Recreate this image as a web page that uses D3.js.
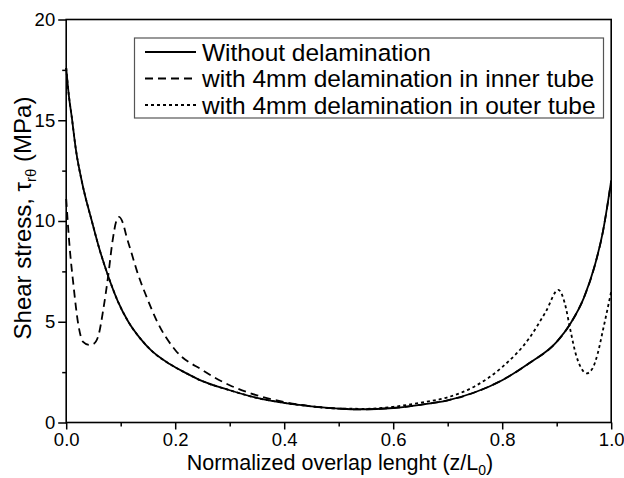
<!DOCTYPE html>
<html>
<head>
<meta charset="utf-8">
<script src="https://cdn.jsdelivr.net/npm/d3@7"></script>
<style>
  body { margin: 0; background: #fff; }
  text { font-family: "Liberation Sans", Arial, sans-serif; fill: #000; }
</style>
</head>
<body>
<svg id="chart" width="624" height="478"></svg>
<script>
// values (z/L0 -> shear stress, MPa)
var xSolid = [0, 0.005, 0.01, 0.018, 0.03, 0.047, 0.06, 0.077, 0.095, 0.114, 0.135, 0.155, 0.19, 0.22, 0.25, 0.3, 0.35, 0.4, 0.45, 0.5, 0.535, 0.57, 0.6, 0.65, 0.7, 0.75, 0.8, 0.85, 0.9, 0.925, 0.95, 0.97, 0.985, 1.0]
var ySolid = [17.6, 16.2, 15.2, 13.5, 11.8, 10.0, 8.7, 7.27, 6.0, 5.0, 4.2, 3.6, 2.9, 2.45, 2.05, 1.6, 1.22, 0.97, 0.8, 0.69, 0.65, 0.67, 0.72, 0.88, 1.1, 1.5, 2.1, 2.95, 4.0, 4.9, 6.2, 7.8, 9.5, 12.0]

var xInner = [0, 0.006, 0.013, 0.022, 0.031, 0.042, 0.05, 0.059, 0.068, 0.077, 0.085, 0.092, 0.097, 0.104, 0.111, 0.12, 0.13, 0.148, 0.167, 0.2, 0.25, 0.3, 0.35, 0.4, 0.45, 0.5, 0.535, 0.57, 0.6, 0.65, 0.7, 0.75, 0.8, 0.85, 0.9, 0.925, 0.95, 0.97, 0.985, 1.0]
var yInner = [11.1, 8.8, 6.9, 4.9, 4.0, 3.85, 3.9, 4.3, 5.6, 7.27, 9.0, 10.0, 10.2, 9.9, 9.2, 8.4, 7.5, 6.2, 5.0, 3.6, 2.6, 1.85, 1.35, 1.02, 0.8, 0.69, 0.65, 0.67, 0.72, 0.88, 1.1, 1.5, 2.1, 2.95, 4.0, 4.9, 6.2, 7.8, 9.5, 12.0]

var xOuter = [0, 0.005, 0.01, 0.018, 0.03, 0.047, 0.06, 0.077, 0.095, 0.114, 0.135, 0.155, 0.19, 0.22, 0.25, 0.3, 0.35, 0.4, 0.45, 0.5, 0.55, 0.6, 0.65, 0.7, 0.75, 0.8, 0.85, 0.88, 0.903, 0.915, 0.925, 0.935, 0.945, 0.955, 0.965, 0.975, 0.985, 0.993, 1.0]
var yOuter = [17.6, 16.2, 15.2, 13.5, 11.8, 10.0, 8.7, 7.27, 6.0, 5.0, 4.2, 3.6, 2.9, 2.45, 2.05, 1.6, 1.22, 0.97, 0.8, 0.69, 0.68, 0.78, 0.98, 1.25, 1.8, 2.75, 4.2, 5.5, 6.58, 5.9, 4.6, 3.4, 2.7, 2.44, 2.65, 3.4, 4.6, 5.6, 6.5]

var seriesNames = ["Without delamination", "with 4mm delamination in inner tube", "with 4mm delamination in outer tube"]
var xTicks = [0, 0.2, 0.4, 0.6, 0.8, 1.0]
var xMinor = [0.1, 0.3, 0.5, 0.7, 0.9]
var yTicks = [0, 5, 10, 15, 20]
var yMinor = [2.5, 7.5, 12.5, 17.5]

// plot box (px) -- 'top' is taken by window.top, so other names here
var pL = 66.2, pR = 611.2, pT = 19.5, pB = 422.5
var svg = d3.select('#chart')
var x = d3.scaleLinear().domain([0, 1]).range([pL, pR])
var y = d3.scaleLinear().domain([0, 20]).range([pB, pT])

var series = [
  {name: seriesNames[0], xs: xSolid, ys: ySolid, dash: null},
  {name: seriesNames[1], xs: xInner, ys: yInner, dash: '8,5'},
  {name: seriesNames[2], xs: xOuter, ys: yOuter, dash: '3,3'}
]

var line = d3.line().x(d => x(d[0])).y(d => y(d[1])).curve(d3.curveMonotoneX)

svg.selectAll('path.curve').data(series).enter().append('path')
  .attr('class', 'curve')
  .attr('d', s => line(d3.zip(s.xs, s.ys)))
  .attr('fill', 'none').attr('stroke', '#000').attr('stroke-width', 1.8)
  .attr('stroke-dasharray', s => s.dash)

// frame
svg.append('rect').attr('x', pL).attr('y', pT)
  .attr('width', pR - pL).attr('height', pB - pT)
  .attr('fill', 'none').attr('stroke', '#000').attr('stroke-width', 1.6)

// axes
svg.append('g').attr('transform', 'translate(0,' + pB + ')')
  .call(d3.axisBottom(x).tickValues(xTicks).tickFormat(d3.format('.1f')).tickSize(7).tickPadding(3))
svg.append('g').attr('transform', 'translate(0,' + pB + ')')
  .call(d3.axisBottom(x).tickValues(xMinor).tickFormat('').tickSize(4))
svg.append('g').attr('transform', 'translate(' + pL + ',0)')
  .call(d3.axisLeft(y).tickValues(yTicks).tickFormat(d3.format('d')).tickSize(8).tickPadding(3))
svg.append('g').attr('transform', 'translate(' + pL + ',0)')
  .call(d3.axisLeft(y).tickValues(yMinor).tickFormat('').tickSize(4))

svg.selectAll('.domain').remove()
svg.selectAll('.tick line').attr('stroke', '#000').attr('stroke-width', 1.5)
svg.selectAll('.tick text').style('font-size', '18.5px')
  .style('font-family', '"Liberation Sans", Arial, sans-serif').attr('fill', '#000')

// axis titles
var xt = svg.append('text').attr('x', 340).attr('y', 470).attr('text-anchor', 'middle')
  .style('font-size', '21.5px')
xt.append('tspan').text('Normalized overlap lenght (z/L')
xt.append('tspan').text('0').style('font-size', '14px').attr('dy', 5)
xt.append('tspan').text(')').attr('dy', -5)

var yt = svg.append('text').attr('transform', 'translate(31,218) rotate(-90)')
  .attr('text-anchor', 'middle').style('font-size', '24px')
yt.append('tspan').text('Shear stress, τ')
yt.append('tspan').text('rθ').style('font-size', '15px').attr('dy', 5)
yt.append('tspan').text(' (MPa)').attr('dy', -5)

// legend
var lg = svg.append('g')
lg.append('rect').attr('x', 134.5).attr('y', 38).attr('width', 469).attr('height', 80)
  .attr('fill', '#fff').attr('stroke', '#555').attr('stroke-width', 1.2)
var rows = lg.selectAll('g.row').data(series).enter().append('g').attr('class', 'row')
  .attr('transform', (d, i) => 'translate(0,' + (52 + i * 26.5) + ')')
rows.append('line').attr('x1', 145).attr('x2', 196).attr('y1', 0).attr('y2', 0)
  .attr('stroke', '#000').attr('stroke-width', 1.8).attr('stroke-dasharray', d => d.dash)
rows.append('text').attr('x', 202).attr('y', 8.5).style('font-size', '24.5px').text(d => d.name)
</script>
</body>
</html>
